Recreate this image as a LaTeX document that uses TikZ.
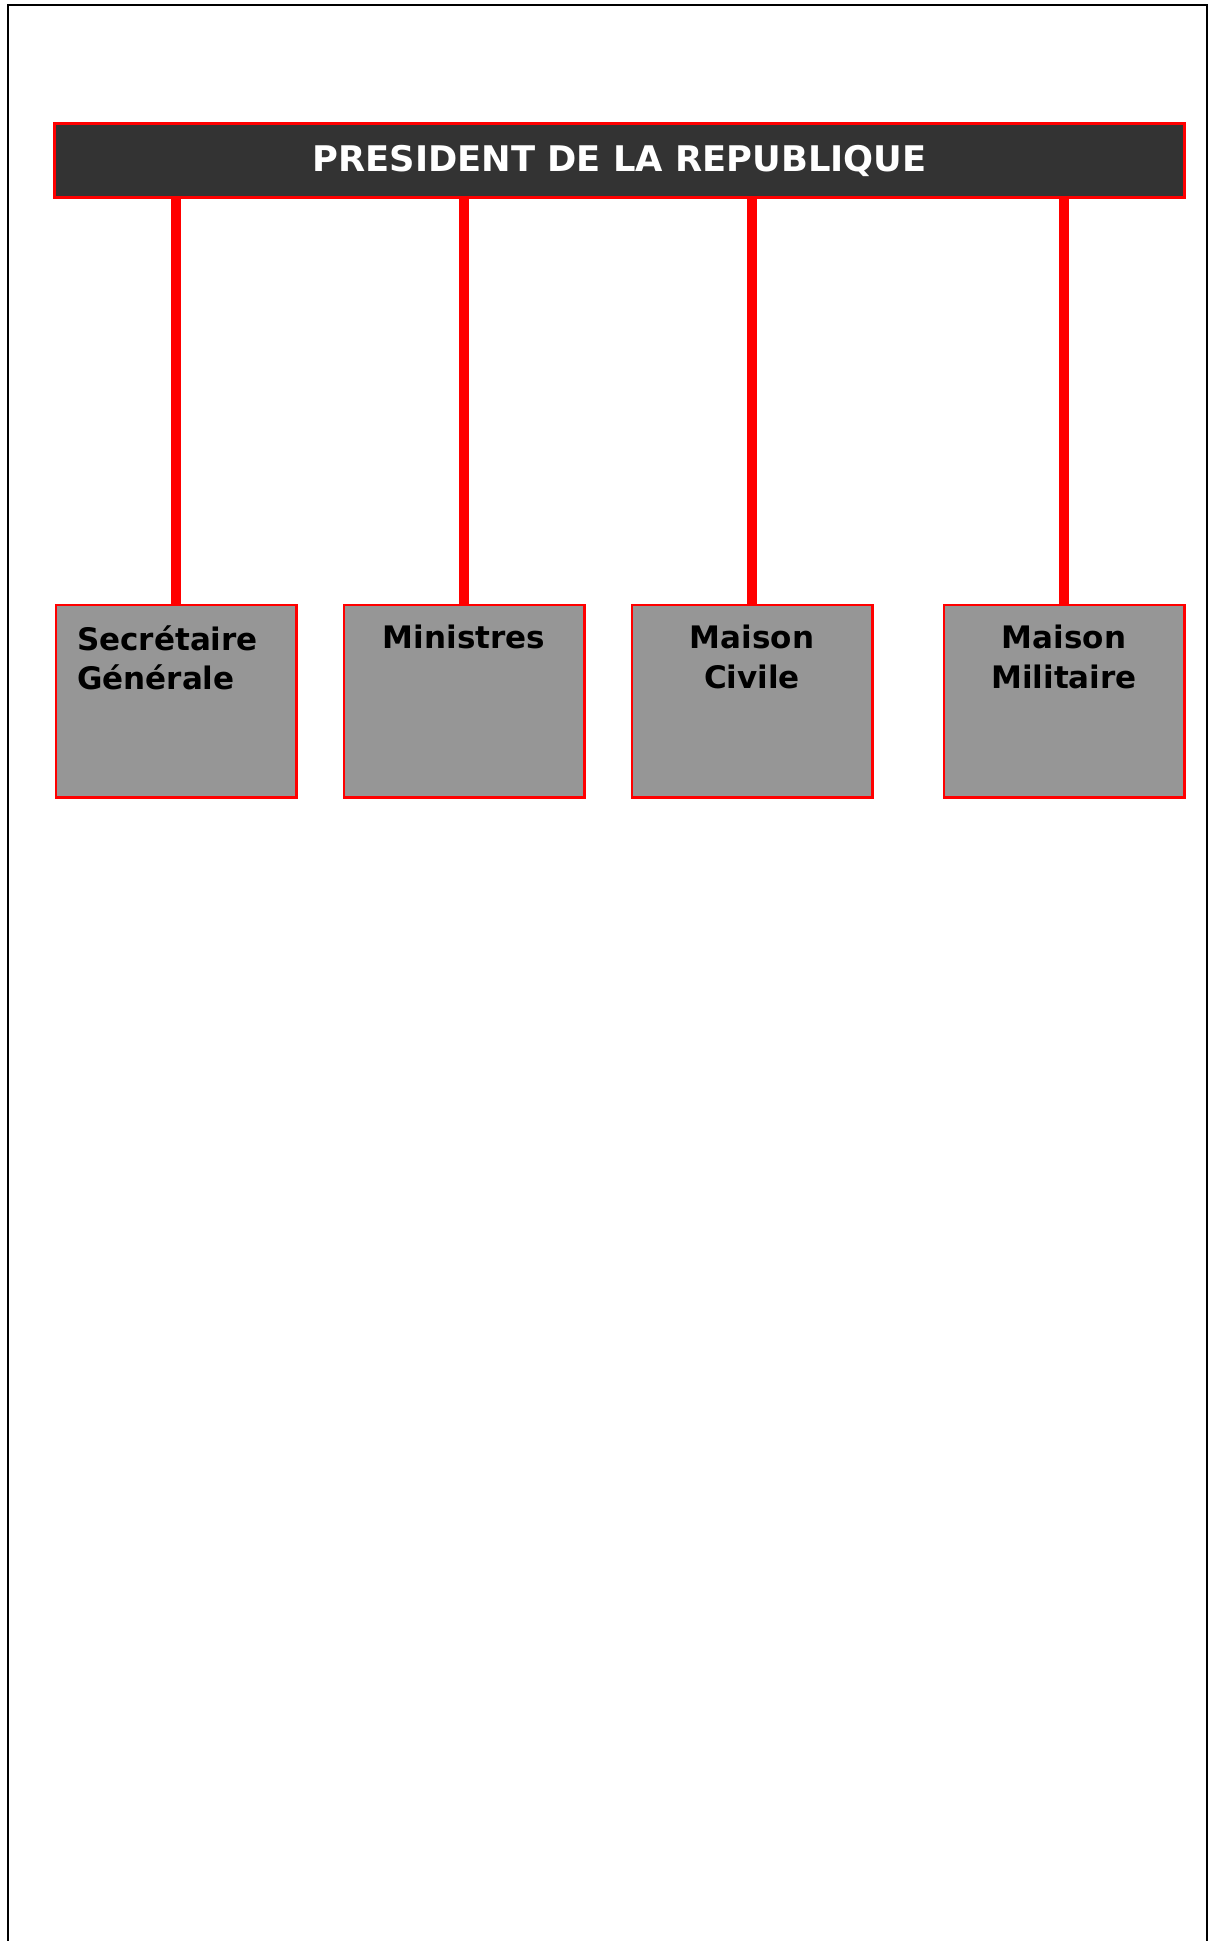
\documentclass[tikz,border=0pt]{standalone}
\usepackage{fontspec}
\setmainfont{DejaVu Sans}
\begin{document}
\begin{tikzpicture}[x=1pt,y=-1pt,
  banner/.style={draw=red,line width=2pt,fill=bannergray,minimum width=1129pt,minimum height=73pt,inner sep=0pt,
    text=white,font=\fontsize{35.3}{40}\selectfont\bfseries},
  orgbox/.style={draw=red,line width=1.5pt,fill=boxgray,minimum width=240pt,minimum height=192pt,inner sep=0pt},
  boxlabel/.style={font=\fontsize{31}{39.5}\selectfont\bfseries,text=black,inner sep=0pt,anchor=north},
  conn/.style={draw=red,line width=10pt}]
\definecolor{bannergray}{RGB}{51,51,51}
\definecolor{boxgray}{RGB}{150,150,150}
\useasboundingbox (0,0) rectangle (1213,1941);
\fill[white] (0,0) rectangle (1213,1941);
\draw[line width=2.5pt] (8,1941) -- (8,5) -- (1207,5) -- (1207,1941);
% boxes
\node[orgbox] (sg) at (176,701) {};
\node[orgbox] (mi) at (464,701) {};
\node[orgbox] (mc) at (752,701) {};
\node[orgbox] (mm) at (1064,701) {};
% banner and connectors
\node[banner] (pres) at (619.5,160.5) {PRESIDENT DE LA REPUBLIQUE};
\draw[conn] (sg.north) -- (sg.north |- pres.south);
\draw[conn] (mi.north) -- (mi.north |- pres.south);
\draw[conn] (mc.north) -- (mc.north |- pres.south);
\draw[conn] (mm.north) -- (mm.north |- pres.south);
\draw[draw=red,line width=2pt] (pres.north west) rectangle (pres.south east);
\draw[draw=red,line width=1.5pt] (sg.north west) rectangle (sg.south east);
\draw[draw=red,line width=1.5pt] (mi.north west) rectangle (mi.south east);
\draw[draw=red,line width=1.5pt] (mc.north west) rectangle (mc.south east);
\draw[draw=red,line width=1.5pt] (mm.north west) rectangle (mm.south east);
% labels
\node[boxlabel,anchor=north west,align=left] (sgt) at (77,625) {Secrétaire\\Générale};
\node[boxlabel,align=center] (mit) at (464,625) {Ministres};
\node[boxlabel,align=center] (mct) at (752,625) {Maison\\Civile};
\node[boxlabel,align=center] (mmt) at (1064,625) {Maison\\Militaire};
\end{tikzpicture}
\end{document}
